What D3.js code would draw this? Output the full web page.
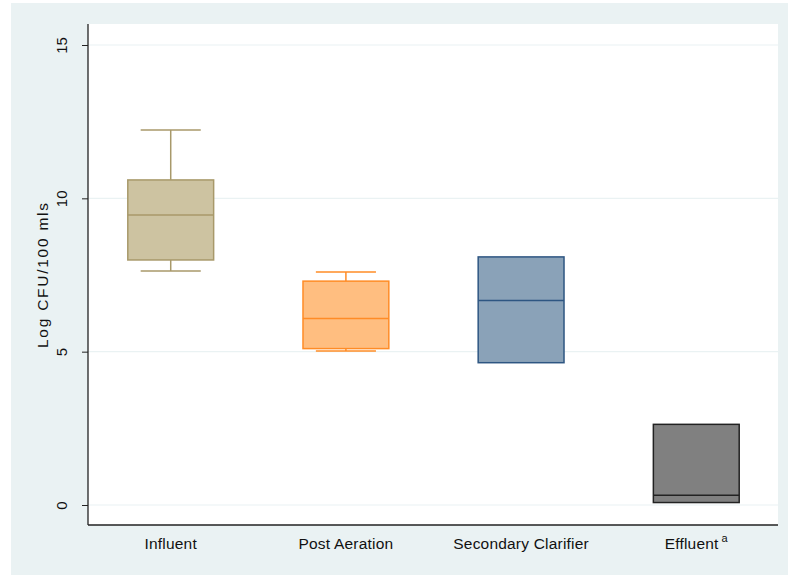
<!DOCTYPE html>
<html>
<head>
<meta charset="utf-8">
<script src="https://cdn.jsdelivr.net/npm/d3@7"></script>
<style>
  body { margin: 0; background: #fff; }
  text { font-family: "Liberation Sans", Arial, sans-serif; }
</style>
</head>
<body>
<script>
// Data
const categories = ["Influent", "Post Aeration", "Secondary Clarifier", "Effluent"];
const whiskerLow = [7.63, 5.02, 4.64, 0.08];
const q1 = [7.99, 5.1, 4.64, 0.08];
const median = [9.46, 6.08, 6.67, 0.32];
const q3 = [10.6, 7.3, 8.09, 2.63];
const whiskerHigh = [12.23, 7.6, 8.09, 2.63];
const fills = ["#cdc3a1", "#ffbe80", "#8aa2b8", "#808080"];
const strokes = ["#a8996a", "#ff8c26", "#2e5682", "#222222"];
const yTicks = [0, 5, 10, 15];

// Layout
const W = 788, H = 575;
const PLOT = { left: 88, right: 778, top: 24, bottom: 525 };

const svg = d3.select("body").append("svg")
  .attr("width", W)
  .attr("height", H);

// Background panels
svg.append("rect")
  .attr("x", 11).attr("y", 3)
  .attr("width", W - 11).attr("height", H - 3)
  .attr("fill", "#eaf2f3");

svg.append("rect")
  .attr("x", PLOT.left).attr("y", PLOT.top)
  .attr("width", PLOT.right - PLOT.left).attr("height", PLOT.bottom - PLOT.top)
  .attr("fill", "#ffffff");

// Scales
const yScale = d3.scaleLinear()
  .domain([0, 15])
  .range([505, 45]);

const xScale = d3.scaleBand()
  .domain(categories)
  .range([84, 783])
  .paddingInner(0.51)
  .paddingOuter(0.25);

const boxW = xScale.bandwidth();
const capW = boxW * 0.7;

// Gridlines
svg.append("g")
  .selectAll("line")
  .data(yTicks)
  .enter()
  .append("line")
  .attr("x1", PLOT.left).attr("x2", PLOT.right)
  .attr("y1", (d) => yScale(d)).attr("y2", (d) => yScale(d))
  .attr("stroke", "#eaf2f3")
  .attr("stroke-width", 1.2);

// Boxes
const boxes = svg.append("g")
  .selectAll("g")
  .data(categories)
  .enter()
  .append("g");

boxes.each(function (c, i) {
  const g = d3.select(this);
  const cx = xScale(c) + boxW / 2;
  // upper whisker
  if (whiskerHigh[i] > q3[i]) {
    g.append("line")
      .attr("x1", cx).attr("x2", cx)
      .attr("y1", yScale(q3[i])).attr("y2", yScale(whiskerHigh[i]))
      .attr("stroke", strokes[i]).attr("stroke-width", 1.5);
    g.append("line")
      .attr("x1", cx - capW / 2).attr("x2", cx + capW / 2)
      .attr("y1", yScale(whiskerHigh[i])).attr("y2", yScale(whiskerHigh[i]))
      .attr("stroke", strokes[i]).attr("stroke-width", 1.5);
  }
  // lower whisker
  if (whiskerLow[i] < q1[i]) {
    g.append("line")
      .attr("x1", cx).attr("x2", cx)
      .attr("y1", yScale(q1[i])).attr("y2", yScale(whiskerLow[i]))
      .attr("stroke", strokes[i]).attr("stroke-width", 1.5);
    g.append("line")
      .attr("x1", cx - capW / 2).attr("x2", cx + capW / 2)
      .attr("y1", yScale(whiskerLow[i])).attr("y2", yScale(whiskerLow[i]))
      .attr("stroke", strokes[i]).attr("stroke-width", 1.5);
  }
  g.append("rect")
    .attr("x", xScale(c))
    .attr("y", yScale(q3[i]))
    .attr("width", boxW)
    .attr("height", yScale(q1[i]) - yScale(q3[i]))
    .attr("fill", fills[i])
    .attr("stroke", strokes[i])
    .attr("stroke-width", 1.5);
  g.append("line")
    .attr("x1", xScale(c)).attr("x2", xScale(c) + boxW)
    .attr("y1", yScale(median[i])).attr("y2", yScale(median[i]))
    .attr("stroke", strokes[i]).attr("stroke-width", 1.5);
});

// Y axis
const yAxis = d3.axisLeft(yScale)
  .tickValues(yTicks)
  .tickSize(6)
  .tickPadding(10);

const yG = svg.append("g")
  .attr("transform", `translate(${PLOT.left}, 0)`)
  .call(yAxis);
yG.select(".domain")
  .attr("d", `M0,${PLOT.top}V${PLOT.bottom}`)
  .attr("stroke", "#222").attr("stroke-width", 1.3);
yG.selectAll(".tick line").attr("stroke", "#222");
yG.selectAll(".tick text")
  .attr("transform", "rotate(-90)")
  .attr("x", 0).attr("y", -21)
  .attr("dy", 0)
  .attr("text-anchor", "middle")
  .attr("fill", "#111")
  .style("font-size", "15px");

// X axis
svg.append("line")
  .attr("x1", PLOT.left).attr("x2", PLOT.right)
  .attr("y1", PLOT.bottom).attr("y2", PLOT.bottom)
  .attr("stroke", "#222").attr("stroke-width", 1.3);

const xLabels = svg.append("g")
  .selectAll("text")
  .data(categories)
  .enter()
  .append("text")
  .attr("x", (d) => xScale(d) + boxW / 2)
  .attr("y", 548.5)
  .attr("text-anchor", "middle")
  .attr("fill", "#111")
  .style("font-size", "15.5px")
  .style("letter-spacing", "0.2px")
  .text((d) => d);

xLabels.filter((d) => d === "Effluent")
  .append("tspan")
  .attr("dx", 3)
  .attr("dy", -7)
  .style("font-size", "11px")
  .text("a");

// Y axis title
svg.append("text")
  .attr("transform", `translate(48, 275.5) rotate(-90)`)
  .attr("text-anchor", "middle")
  .attr("fill", "#111")
  .attr("textLength", 145)
  .attr("lengthAdjust", "spacing")
  .style("font-size", "15.5px")
  .text("Log CFU/100 mls");
</script>
</body>
</html>
